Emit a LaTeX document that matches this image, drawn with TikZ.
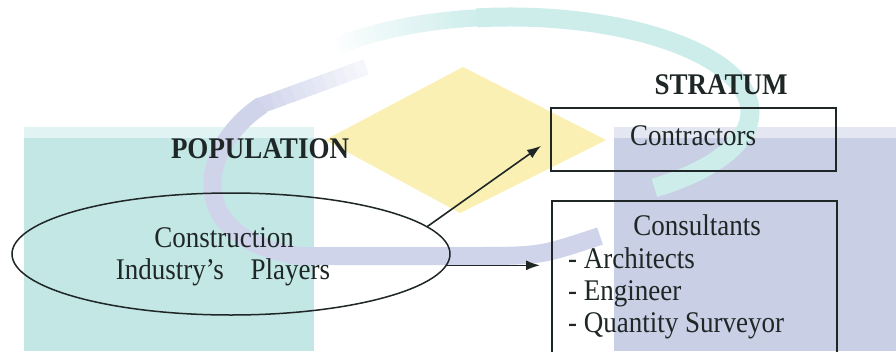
\documentclass[tikz,border=0pt]{standalone}
\usepackage{fontspec}
\setmainfont{Liberation Serif}
\newfontfamily\labelfont[FakeStretch=0.9]{Liberation Serif}
\usepackage{xcolor}
\usetikzlibrary{shapes.geometric}
\usetikzlibrary{arrows.meta}
\usetikzlibrary{calc}

\definecolor{wmteal}{HTML}{C3E7E5}
\definecolor{wmtealarc}{HTML}{CDEDEB}
\definecolor{wmlav}{HTML}{C9CFE4}
\definecolor{wmlavarc}{HTML}{CFD4EB}
\definecolor{wmyellow}{HTML}{FBF0B4}
\definecolor{ink}{HTML}{1E2626}

\tikzset{
  txt/.style={text=ink, inner sep=0pt, anchor=base, font=\labelfont\fontsize{30}{32}\selectfont},
  headtxt/.style={txt, font=\labelfont\fontsize{30}{32}\selectfont\bfseries},
  listtxt/.style={txt, anchor=base west},
  sbox/.style={draw=ink, line width=2pt, rectangle, inner sep=0pt},
  link/.style={->, ink, line width=1.6pt, shorten >=11pt},
  >={Latex[length=14pt,width=10pt]}
}

\begin{document}
\begin{tikzpicture}[x=1pt,y=-1pt]
\clip (0,0) rectangle (896,351);
\fill [white] (0,0) rectangle (896,351);

% background shapes
\fill [wmteal!50] (24,127) rectangle (314,138);
\fill [wmteal] (24,138) rectangle (314,351);
\fill [wmlav!50] (614,127) rectangle (896,138);
\fill [wmlav] (614,138) rectangle (896,351);
\fill [wmyellow] (463,67) -- (606,140) -- (460,213) -- (325,140) -- cycle;
% upper swoosh, fading out to the left
\foreach \i [evaluate=\i as \p using int(5*\i)] in {0,...,19}
  \draw [wmtealarc!\p!white, line width=17pt] ([shift={(222+2*\i:240 and 95)}]510,112) arc[start angle=222+2*\i, end angle=224.6+2*\i, x radius=240, y radius=95];
\draw [wmtealarc, line width=19pt] ([shift={(262:240 and 95)}]510,112) arc[start angle=262, end angle=413, x radius=240, y radius=95];
% lower swoosh, fading out at the top
\foreach \i [evaluate=\i as \p using int(20+8*\i)] in {0,...,9}
  \draw [wmlavarc!\p!white, line width=16pt] ($(366,67)!\i/10!(262,105)$) -- ($(366,67)!\i/10+0.12!(262,105)$);
\draw [wmlavarc, line width=18pt] (262,105) .. controls (195,150) and (185,240) .. (300,256) -- (470,256) .. controls (540,256) .. (600,236);

% headings
\node [headtxt] (pop) at (260,158) {POPULATION};
\node [headtxt] (strat) at (721,94) {STRATUM};

% population
\node [ellipse, draw=ink, line width=1.5pt, minimum width=438, minimum height=122, inner sep=0pt] (players) at (231,254) {};
\node [txt] (playtxta) at (224,247) {Construction};
\node [txt] (playtxtb) at (223,279) {Industry’s\ \ \ \ Players};

% strata
\node [sbox, minimum width=285, minimum height=63] (contr) at (693.5,139.5) {};
\node [txt] (contrtxt) at (693,145) {Contractors};
\node [sbox, anchor=north west, minimum width=285, minimum height=200] (consult) at (551,200) {};
\node [txt] (consulthead) at (697,235) {Consultants};
\node [listtxt] (arch) at (568,268) {- Architects};
\node [listtxt] (engr) at (568,300) {- Engineer};
\node [listtxt] (qs) at (568,332) {- Quantity Surveyor};

% arrows
\draw [link] (players.8) -- (contr.west);
\draw [link] (players.-3) -- (players.-3 -| consult.west);

\end{tikzpicture}
\end{document}
